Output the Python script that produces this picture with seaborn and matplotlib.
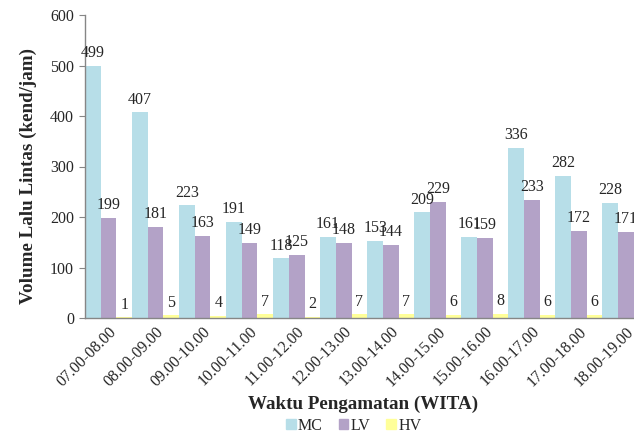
import numpy as np
import pandas as pd
import matplotlib
matplotlib.use("Agg")
import matplotlib.pyplot as plt
import seaborn as sns

periods = ["07.00-08.00", "08.00-09.00", "09.00-10.00", "10.00-11.00",
           "11.00-12.00", "12.00-13.00", "13.00-14.00", "14.00-15.00",
           "15.00-16.00", "16.00-17.00", "17.00-18.00", "18.00-19.00"]
mc = [499, 407, 223, 191, 118, 161, 153, 209, 161, 336, 282, 228]
lv = [199, 181, 163, 149, 125, 148, 144, 229, 159, 233, 172, 171]
# last HV value is cut off at the right edge of the original picture
hv = [1, 5, 4, 7, 2, 7, 7, 6, 8, 6, 6, np.nan]

series = ["MC", "LV", "HV"]
colors = ["#B7DEE8", "#B3A2C7", "#FFFF99"]

sns.set_style("white")
plt.rcParams["font.family"] = ["Liberation Serif", "DejaVu Serif"]

df = pd.DataFrame({
    "periode": periods * 3,
    "jenis": sum([[s] * len(periods) for s in series], []),
    "volume": mc + lv + hv,
})

fig = plt.figure(figsize=(6.34, 4.38), dpi=100)
ax = fig.add_axes([85 / 634, 1 - 318 / 438, 549 / 634, 303 / 438])

sns.barplot(data=df, x="periode", y="volume", hue="jenis", hue_order=series,
            palette=colors, saturation=1, width=1.0, gap=0, linewidth=0,
            ax=ax, legend=False)

# data labels above each bar
for cont in ax.containers:
    for bar in cont:
        if bar is None:
            continue
        h = bar.get_height()
        if np.isnan(h):
            continue
        ax.annotate(f"{int(round(h))}", (bar.get_x() + bar.get_width() / 2, h),
                    xytext=(0, 3.5), textcoords="offset points",
                    ha="center", va="bottom", fontsize=11.5)

ax.set_xlim(-0.5, 11.17)
ax.set_ylim(0, 600)
ax.set_yticks(range(0, 601, 100))
ax.tick_params(axis="y", length=4, color="#868686", labelsize=11.5, pad=4, left=True)
ax.tick_params(axis="x", length=0, labelsize=11.5, pad=4)
plt.setp(ax.get_xticklabels(), rotation=45, ha="right", rotation_mode="anchor")

for s in ["top", "right"]:
    ax.spines[s].set_visible(False)
for s in ["left", "bottom"]:
    ax.spines[s].set_color("#868686")
    ax.spines[s].set_linewidth(1)

ax.set_xlabel("Waktu Pengamatan (WITA)", fontsize=13.7, fontweight="bold")
ax.xaxis.set_label_coords(0.507, -0.258)
ax.set_ylabel("Volume Lalu Lintas (kend/jam)", fontsize=13.7, fontweight="bold")
ax.yaxis.set_label_coords(-0.088, 0.469)

handles = [plt.Rectangle((0, 0), 1, 1, color=c) for c in colors]
fig.legend(handles, series, loc="center", bbox_to_anchor=(0.558, 0.028), ncol=3,
           frameon=False, fontsize=11.5, handlelength=0.6, handleheight=0.6,
           handletextpad=0.15, columnspacing=1.0)

fig.savefig("out.png", dpi=100)
